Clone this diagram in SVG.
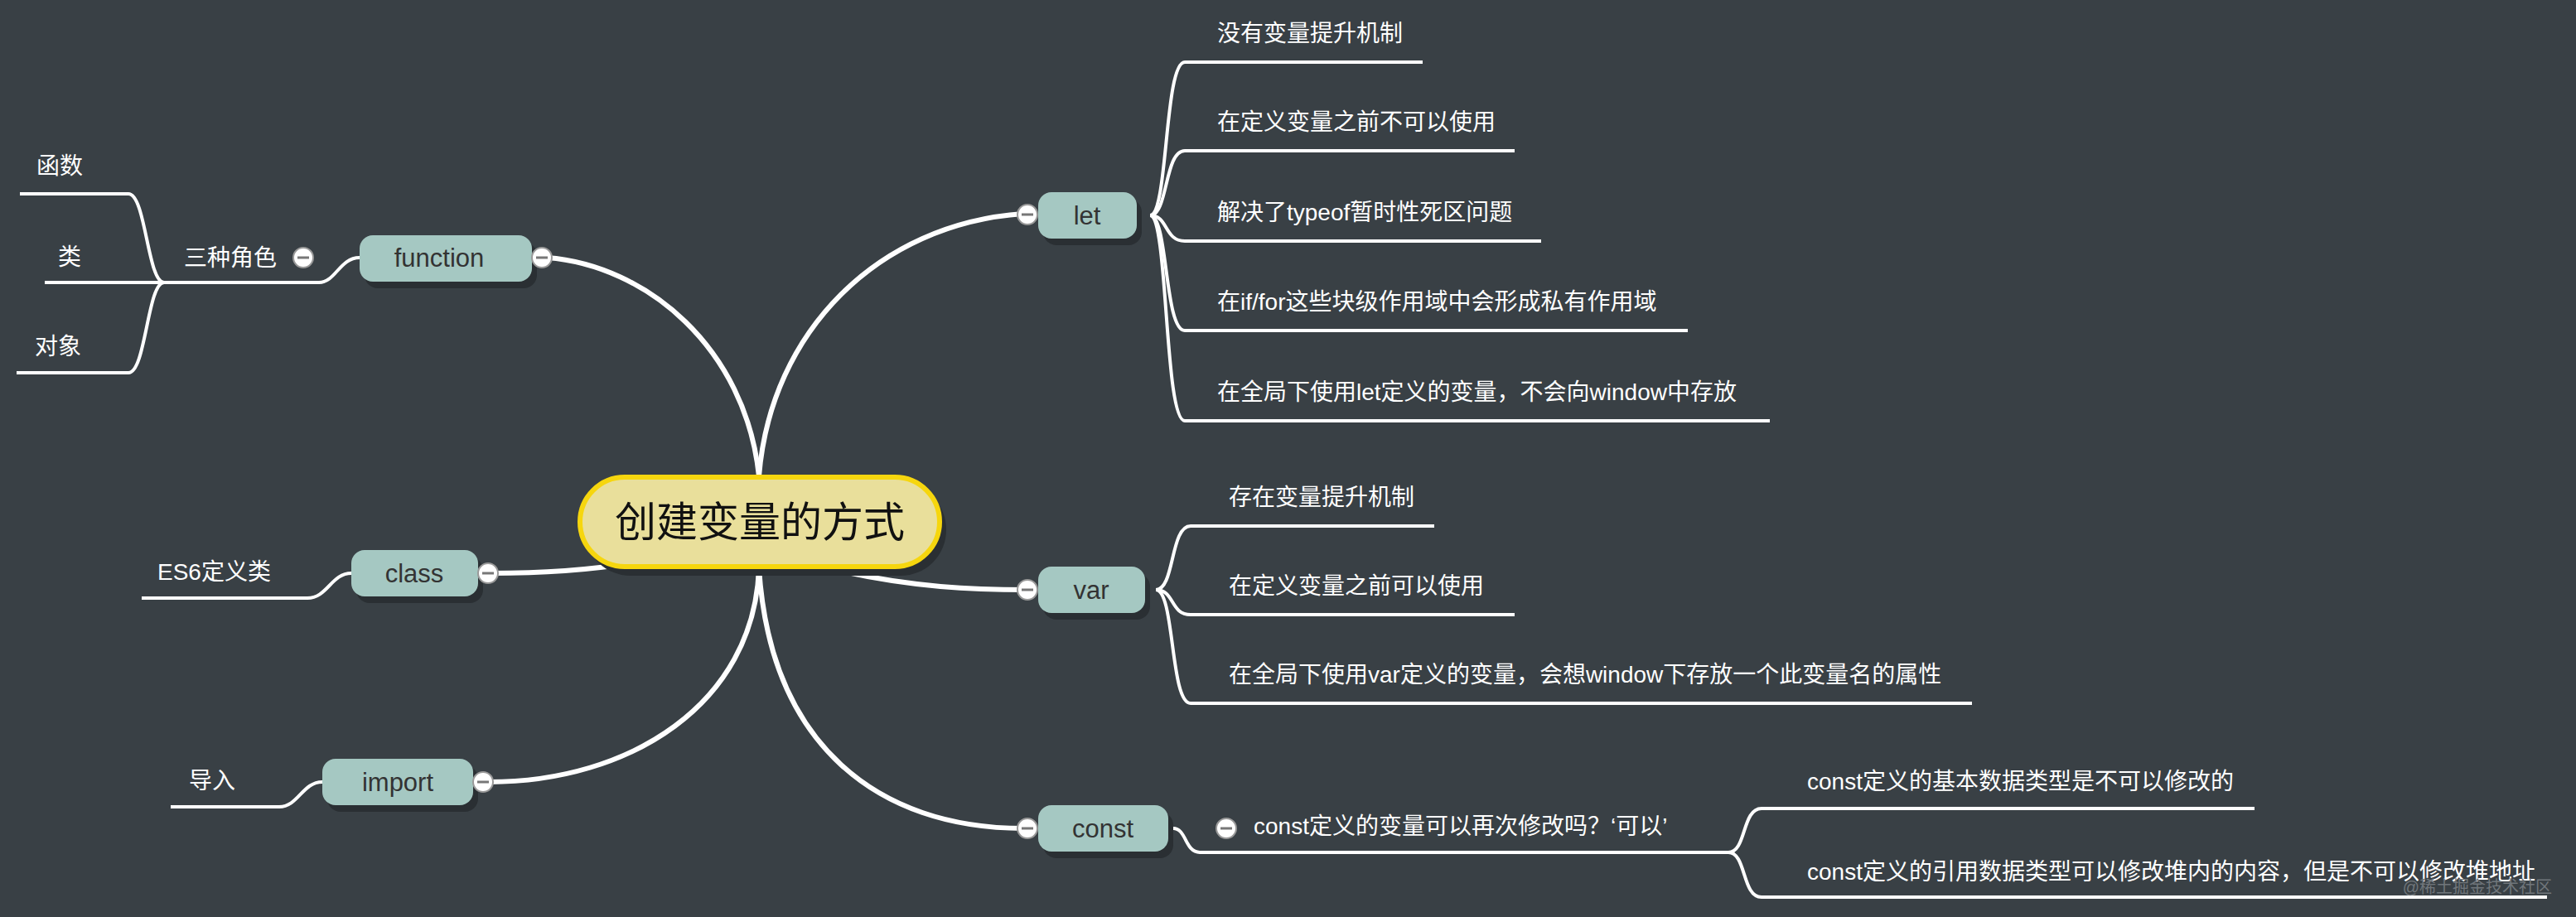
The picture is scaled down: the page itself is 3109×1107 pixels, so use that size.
<svg xmlns="http://www.w3.org/2000/svg" width="3109" height="1107" viewBox="0 0 3109 1107">
<style>
.bg{fill:#394045}
.main{fill:none;stroke:#fff;stroke-width:6;stroke-linecap:round}
.br{fill:none;stroke:#fff;stroke-width:4}
.node{fill:#a5c8c2}
.shadow{fill:#2a2f33}
.nt{font-family:"Liberation Sans","Noto Sans CJK SC",sans-serif;font-size:31px;fill:#333;text-anchor:middle}
.lt{font-family:"Liberation Sans","Noto Sans CJK SC",sans-serif;font-size:28px;fill:#fff}
.cc{fill:#fff;stroke:#999;stroke-width:2}
.cm{stroke:#777;stroke-width:3}
</style>
<defs>
<g id="col"><circle class="cc" r="12"/><line class="cm" x1="-7" x2="7" y1="0" y2="0"/></g>
</defs>
<rect class="bg" width="3109" height="1107"/>
<g id="connectors">
<path class="main" d="M916 575 C900 420 780 320 660 311"/>
<path class="main" d="M916 575 C930 400 1060 270 1235 258"/>
<path class="main" d="M760 680 C700 690 640 692 592 692"/>
<path class="main" d="M916 686 C910 850 760 944 590 944"/>
<path class="main" d="M1000 686 C1100 710 1180 712 1240 712"/>
<path class="main" d="M916 686 C930 900 1060 1000 1235 1000"/>
<path class="br" d="M1388 260 C1410 260 1405 75 1430 75 H1717"/>
<path class="br" d="M1388 260 C1410 260 1405 182 1430 182 H1828"/>
<path class="br" d="M1388 260 C1410 260 1405 291 1430 291 H1860"/>
<path class="br" d="M1388 260 C1410 260 1405 399 1430 399 H2037"/>
<path class="br" d="M1388 260 C1410 260 1405 508 1430 508 H2136"/>
<path class="br" d="M1395 712 C1418 712 1412 635 1437 635 H1731"/>
<path class="br" d="M1395 712 C1418 712 1412 742 1437 742 H1828"/>
<path class="br" d="M1395 712 C1418 712 1412 849 1437 849 H2380"/>
<path class="br" d="M1416 1000 C1432 1000 1430 1029 1448 1029 H2086"/>
<path class="br" d="M2086 1029 C2108 1029 2102 976 2126 976 H2721"/>
<path class="br" d="M2086 1029 C2108 1029 2102 1083 2126 1083 H3074"/>
<path class="br" d="M434 311 C410 311 405 341 385 341 H198"/>
<path class="br" d="M198 341 C178 341 176 234 155 234 H24"/>
<path class="br" d="M198 341 H54"/>
<path class="br" d="M198 341 C178 341 176 450 155 450 H20"/>
<path class="br" d="M424 692 C400 692 395 722 371 722 H171"/>
<path class="br" d="M389 944 C365 944 360 974 337 974 H206"/>
</g>
<g id="center">
<rect x="706" y="584" width="436" height="111" rx="55" class="shadow"/>
<rect x="700" y="576" width="434" height="108" rx="54" fill="#e9df9b" stroke="#f6d60e" stroke-width="6"/>
<text x="917" y="648" font-family="Liberation Sans,'Noto Sans CJK SC',sans-serif" font-size="50" fill="#111" text-anchor="middle">创建变量的方式</text>
</g>
<g id="let">
<rect x="1259" y="240" width="119" height="56" rx="16" class="shadow"/>
<rect x="1253" y="232" width="119" height="56" rx="16" class="node"/>
<text class="nt" x="1312" y="271">let</text>
<use href="#col" x="1240" y="259"/>
</g>
<g id="var">
<rect x="1259" y="692" width="129" height="56" rx="16" class="shadow"/>
<rect x="1253" y="684" width="129" height="56" rx="16" class="node"/>
<text class="nt" x="1317" y="723">var</text>
<use href="#col" x="1240" y="712"/>
</g>
<g id="const">
<rect x="1259" y="980" width="157" height="56" rx="16" class="shadow"/>
<rect x="1253" y="972" width="157" height="56" rx="16" class="node"/>
<text class="nt" x="1331" y="1011">const</text>
<use href="#col" x="1240" y="1000"/>
</g>
<g id="function">
<rect x="440" y="292" width="208" height="56" rx="16" class="shadow"/>
<rect x="434" y="284" width="208" height="56" rx="16" class="node"/>
<text class="nt" x="530" y="322">function</text>
<use href="#col" x="654" y="311"/>
</g>
<g id="class">
<rect x="430" y="672" width="153" height="56" rx="16" class="shadow"/>
<rect x="424" y="664" width="153" height="56" rx="16" class="node"/>
<text class="nt" x="500" y="703">class</text>
<use href="#col" x="589" y="692"/>
</g>
<g id="import">
<rect x="395" y="924" width="182" height="56" rx="16" class="shadow"/>
<rect x="389" y="916" width="182" height="56" rx="16" class="node"/>
<text class="nt" x="480" y="955">import</text>
<use href="#col" x="583" y="944"/>
</g>
<g id="let-leaves">
<text class="lt" x="1469" y="50">没有变量提升机制</text>
<text class="lt" x="1469" y="157">在定义变量之前不可以使用</text>
<text class="lt" x="1469" y="266">解决了typeof暂时性死区问题</text>
<text class="lt" x="1469" y="374">在if/for这些块级作用域中会形成私有作用域</text>
<text class="lt" x="1469" y="483">在全局下使用let定义的变量，不会向window中存放</text>
</g>
<g id="var-leaves">
<text class="lt" x="1483" y="610">存在变量提升机制</text>
<text class="lt" x="1483" y="717">在定义变量之前可以使用</text>
<text class="lt" x="1483" y="824">在全局下使用var定义的变量，会想window下存放一个此变量名的属性</text>
</g>
<g id="const-leaves">
<use href="#col" x="1480" y="1000"/>
<text class="lt" x="1513" y="1007">const定义的变量可以再次修改吗？‘可以’</text>
<text class="lt" x="2181" y="953">const定义的基本数据类型是不可以修改的</text>
<text class="lt" x="2181" y="1062">const定义的引用数据类型可以修改堆内的内容，但是不可以修改堆地址</text>
</g>
<g id="function-leaves">
<text class="lt" x="222" y="321">三种角色</text>
<use href="#col" x="366" y="311"/>
<text class="lt" x="44" y="210">函数</text>
<text class="lt" x="70" y="320">类</text>
<text class="lt" x="42" y="428">对象</text>
</g>
<g id="class-leaves"><text class="lt" x="190" y="700">ES6定义类</text></g>
<g id="import-leaves"><text class="lt" x="228" y="952">导入</text></g>
<text x="3080" y="1078" font-family="Liberation Sans,'Noto Sans CJK SC',sans-serif" font-size="20" fill="#70767b" text-anchor="end">@稀土掘金技术社区</text>
</svg>
